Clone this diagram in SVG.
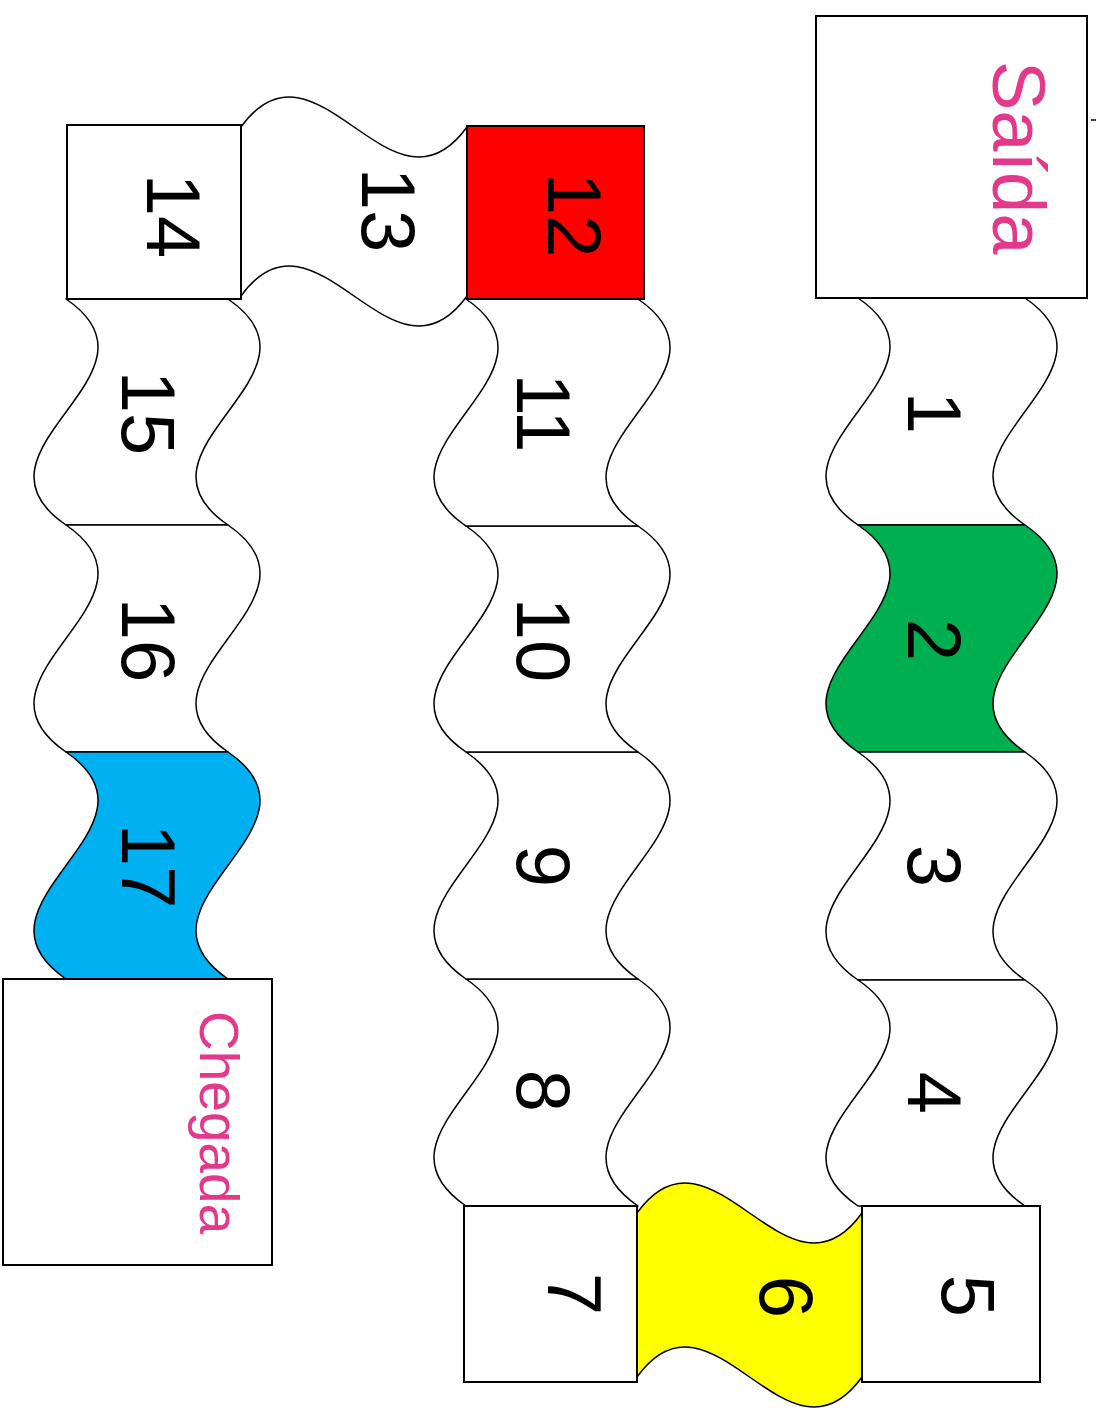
<svg xmlns="http://www.w3.org/2000/svg" width="1097" height="1417" viewBox="0 0 1097 1417">
<style>
.cell{fill:#ffffff;stroke:#000;stroke-width:1.5;stroke-linejoin:round}
.box{fill:#ffffff;stroke:#000;stroke-width:2}
.num{font-family:"Liberation Sans",Arial,sans-serif;font-size:76px;fill:#000;text-anchor:middle}
.lbl{font-family:"Liberation Sans",Arial,sans-serif;fill:#e4398a}
</style>
<rect width="1097" height="1417" fill="#ffffff"/>
<g id="connectors"></g>
<g id="cell1"><path class="cell" d="M858,298 C969,373.7 747,449.3 858,525 L1025,525 C914,449.3 1136,373.7 1025,298 Z"/><text class="num" transform="translate(908,413) rotate(90)">1</text></g>
<g id="cell2"><path class="cell" style="fill:#00b050" d="M858,525 C969,600.7 747,676.3 858,752 L1025,752 C914,676.3 1136,600.7 1025,525 Z"/><text class="num" transform="translate(908,640) rotate(90)">2</text></g>
<g id="cell3"><path class="cell" d="M858,752 C969,828 747,904 858,980 L1025,980 C914,904 1136,828 1025,752 Z"/><text class="num" transform="translate(908,866) rotate(90)">3</text></g>
<g id="cell4"><path class="cell" d="M858,980 C969,1055.3 747,1130.7 858,1206 L1025,1206 C914,1130.7 1136,1055.3 1025,980 Z"/><text class="num" transform="translate(908,1093) rotate(90)">4</text></g>
<g id="cell6"><path class="cell" style="fill:#ffff00" d="M637,1213 C712,1109 787,1317 862,1213 L862,1377 C787,1481 712,1273 637,1377 Z"/><text class="num" transform="translate(760,1297) rotate(90)">6</text></g>
<g id="cell8"><path class="cell" d="M466,979 C577,1054.7 355,1130.3 466,1206 L638,1206 C527,1130.3 749,1054.7 638,979 Z"/><text class="num" transform="translate(517,1091) rotate(90)">8</text></g>
<g id="cell9"><path class="cell" d="M466,752 C577,827.7 355,903.3 466,979 L638,979 C527,903.3 749,827.7 638,752 Z"/><text class="num" transform="translate(517,866) rotate(90)">9</text></g>
<g id="cell10"><path class="cell" d="M466,526 C577,601.3 355,676.7 466,752 L638,752 C527,676.7 749,601.3 638,526 Z"/><text class="num" transform="translate(517,640) rotate(90)">10</text></g>
<g id="cell11"><path class="cell" d="M466,299 C577,374.7 355,450.3 466,526 L638,526 C527,450.3 749,374.7 638,299 Z"/><text class="num" transform="translate(517,413) rotate(90)">11</text></g>
<g id="cell13"><path class="cell" d="M241,127 C316.3,23 391.7,231 467,127 L467,296 C391.7,400 316.3,192 241,296 Z"/><text class="num" transform="translate(362,210) rotate(90)">13</text></g>
<g id="cell15"><path class="cell" d="M66,299 C177,374.3 -45,449.7 66,525 L228,525 C117,449.7 339,374.3 228,299 Z"/><text class="num" transform="translate(122,413) rotate(90)">15</text></g>
<g id="cell16"><path class="cell" d="M66,525 C177,600.7 -45,676.3 66,752 L228,752 C117,676.3 339,600.7 228,525 Z"/><text class="num" transform="translate(122,640) rotate(90)">16</text></g>
<g id="cell17"><path class="cell" style="fill:#00b0f0" d="M66,752 C177,827.7 -45,903.3 66,979 L228,979 C117,903.3 339,827.7 228,752 Z"/><text class="num" transform="translate(122,866) rotate(90)">17</text></g>
<g id="saida"><rect class="box" x="816" y="16" width="271" height="282"/><text class="lbl" font-size="74" transform="translate(993,61) rotate(90)">Saída</text><line x1="1091" y1="120" x2="1096" y2="120" stroke="#000" stroke-width="1.5"/></g>
<g id="cell5"><rect class="box" x="862" y="1206" width="178" height="176"/><text class="num" transform="translate(942,1296) rotate(90)">5</text></g>
<g id="cell7"><rect class="box" x="464" y="1206" width="173" height="176"/><text class="num" transform="translate(548,1294) rotate(90)">7</text></g>
<g id="cell12"><rect class="box" style="fill:#ff0000" x="467" y="126" width="177" height="173"/><text class="num" transform="translate(548,215) rotate(90)">12</text></g>
<g id="cell14"><rect class="box" x="67" y="125" width="174" height="174"/><text class="num" transform="translate(147,216) rotate(90)">14</text></g>
<g id="chegada"><rect class="box" x="3" y="979" width="269" height="286"/><text class="lbl" font-size="55" transform="translate(200,1011) rotate(90)">Chegada</text></g>
</svg>
